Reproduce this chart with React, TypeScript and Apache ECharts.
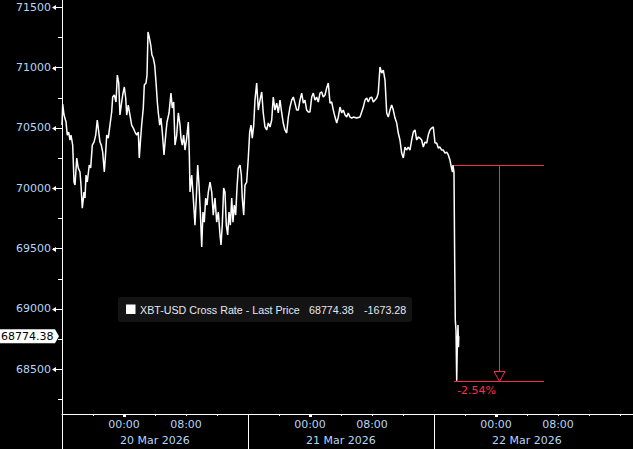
import React, { useEffect, useRef } from "react";
import * as echarts from "echarts";

// Hours elapsed since 19 Mar 2026 16:00 (start of the chart window)
const hours = [
  0.0, 0.09, 0.26, 0.52, 0.68, 0.86, 1.03, 1.16, 1.38, 1.55, 1.68, 1.9, 2.1, 2.32, 2.45, 2.62, 2.84, 2.97, 3.1, 3.26,
  3.52, 3.7, 3.91, 4.13, 4.35, 4.55, 4.74, 4.9, 5.07, 5.25, 5.46, 5.64, 5.77, 5.97, 6.19, 6.41, 6.54, 6.75, 6.97, 7.14,
  7.32, 7.48, 7.65, 7.83, 8.04, 8.22, 8.35, 8.55, 8.77, 8.99, 9.2, 9.42, 9.64, 9.85, 9.97, 10.15, 10.28, 10.49, 10.62, 10.84,
  10.97, 11.1, 11.26, 11.45, 11.61, 11.78, 11.96, 12.13, 12.3, 12.43, 12.61, 12.77, 12.94, 13.16, 13.38, 13.55, 13.81, 14.06, 14.23, 14.41,
  14.58, 14.8, 15.01, 15.23, 15.35, 15.52, 15.7, 15.87, 16.09, 16.3, 16.43, 16.52, 16.74, 16.94, 17.16, 17.33, 17.51, 17.68, 17.85, 18.03,
  18.19, 18.36, 18.54, 18.71, 18.88, 19.1, 19.32, 19.52, 19.74, 19.96, 20.17, 20.39, 20.52, 20.68, 20.86, 21.03, 21.2, 21.38, 21.55, 21.72,
  21.9, 22.06, 22.23, 22.41, 22.58, 22.75, 22.97, 23.14, 23.26, 23.45, 23.61, 23.83, 24.04, 24.22, 24.39, 24.55, 24.74, 24.9, 25.12, 25.33,
  25.55, 25.77, 25.97, 26.19, 26.41, 26.62, 26.84, 27.06, 27.26, 27.48, 27.7, 27.91, 28.13, 28.35, 28.55, 28.77, 28.99, 29.2, 29.42, 29.64,
  29.85, 30.06, 30.28, 30.49, 30.71, 30.93, 31.14, 31.35, 31.57, 31.78, 32.0, 32.22, 32.43, 32.65, 32.86, 33.07, 33.29, 33.51, 33.72, 33.94,
  34.15, 34.36, 34.58, 34.8, 35.01, 35.23, 35.45, 35.65, 35.87, 36.09, 36.3, 36.52, 36.74, 36.94, 37.16, 37.38, 37.59, 38.03, 38.45, 38.67,
  38.88, 39.1, 39.32, 39.52, 39.74, 39.96, 40.17, 40.39, 40.61, 40.81, 41.03, 41.25, 41.46, 41.68, 41.9, 42.1, 42.32, 42.54, 42.75, 42.97,
  43.19, 43.39, 43.61, 43.83, 44.04, 44.26, 44.48, 44.68, 44.9, 45.12, 45.33, 45.55, 45.77, 45.97, 46.19, 46.41, 46.62, 46.84, 47.06, 47.26,
  47.48, 47.7, 47.91, 48.13, 48.35, 48.55, 48.77, 48.99, 49.2, 49.42, 49.64, 49.85, 50.06, 50.26, 50.39, 50.45, 50.58, 50.67, 50.75, 50.84,
  50.93, 51.01, 51.1, 51.16, 51.2,
];

const prices = [
  70524, 70698, 70607, 70549, 70441, 70466, 70400, 70441, 70358, 70052, 70027, 70251, 70168, 70135, 70027, 69836, 69969, 69919, 70110, 70052,
  70193, 70168, 70358, 70383, 70441, 70566, 70466, 70383, 70358, 70300, 70135, 70300, 70441, 70416, 70524, 70632, 70756, 70773, 70715, 70938,
  70872, 70607, 70690, 70773, 70839, 70748, 70607, 70690, 70607, 70524, 70499, 70466, 70441, 70466, 70251, 70416, 70524, 70665, 70856, 70872,
  70938, 71295, 71253, 71187, 71104, 71079, 71021, 70880, 70715, 70624, 70524, 70582, 70466, 70276, 70441, 70549, 70624, 70789, 70665, 70715,
  70358, 70441, 70624, 70524, 70416, 70358, 70441, 70317, 70416, 70549, 70276, 69969, 70110, 69919, 69695, 69919, 70193, 70027, 69803, 69513,
  69803, 69720, 69919, 69861, 69969, 70052, 69969, 69778, 69919, 69720, 69803, 69613, 69530, 69695, 70002, 69969, 69695, 69613, 69803, 69695,
  69919, 69720, 69861, 69778, 70002, 70168, 70193, 70110, 69919, 69778, 70027, 70052, 70251, 70466, 70524, 70416, 70524, 70731, 70872, 70648,
  70731, 70798, 70624, 70508, 70483, 70541, 70508, 70566, 70756, 70648, 70706, 70624, 70731, 70624, 70541, 70483, 70458, 70590, 70673, 70731,
  70756, 70706, 70648, 70648, 70731, 70789, 70706, 70731, 70648, 70632, 70632, 70756, 70789, 70731, 70756, 70715, 70789, 70798, 70756, 70773,
  70831, 70872, 70706, 70715, 70648, 70590, 70541, 70590, 70673, 70624, 70648, 70607, 70590, 70624, 70590, 70582, 70590, 70582, 70590, 70632,
  70673, 70731, 70748, 70715, 70748, 70756, 70715, 70731, 70748, 70789, 71005, 70955, 70980, 70897, 70624, 70590, 70648, 70690, 70648, 70582,
  70541, 70458, 70400, 70292, 70251, 70342, 70317, 70342, 70317, 70400, 70466, 70483, 70400, 70425, 70416, 70400, 70342, 70383, 70375, 70441,
  70483, 70499, 70508, 70375, 70375, 70334, 70342, 70317, 70317, 70292, 70300, 70276, 70234, 70168, 70135, 70193, 70135, 69405, 68908, 68825,
  68405, 68701, 68867, 68684, 68774,
];

const yTickValues = [68500, 69000, 69500, 70000, 70500, 71000, 71500];
const yMinorTickValues = [68250, 68750, 69250, 69750, 70250, 70750, 71250];
const yMin = 68130;
const yMax = 71560;
const xMaxHours = 73.68;

const fourHourTicks = [4, 8, 12, 16, 20, 28, 32, 36, 40, 44, 52, 56, 60, 64, 68, 72];
const timeTickHours = [8, 16, 32, 40, 56, 64];
const timeTickLabels = ["00:00", "08:00", "00:00", "08:00", "00:00", "08:00"];
const midnightHours = [8, 32, 56];
const daySeparatorHours = [0, 24, 48];
const dayLabelHours = [12, 36, 60];
const dayLabels = ["20 Mar 2026", "21 Mar 2026", "22 Mar 2026"];

const seriesName = "XBT-USD Cross Rate - Last Price";
const lastPrice = 68774.38;
const netChange = -1673.28;

// drawdown annotation
const annoStartHour = 50.6;
const annoEndHour = 62.2;
const annoArrowHour = 56.4;
const annoFromPrice = 70190;
const annoToPrice = 68405;

const LABEL_BLUE = "#b8d4f4";
const RED = "#f0304c";
const AXIS_FONT = "DejaVu Sans";

export default function App() {
  const ref = useRef<HTMLDivElement>(null);

  useEffect(() => {
    if (!ref.current) return;
    const chart = echarts.init(ref.current, undefined, { renderer: "svg" });
    const lineData = hours.map((h, i) => [h, prices[i]]);
    const pct = ((annoToPrice / annoFromPrice - 1) * 100).toFixed(2) + "%";

    chart.setOption({
      animation: false,
      backgroundColor: "#000000",
      grid: { left: 62, right: 0, top: 0, bottom: 35, containLabel: false },
      xAxis: [
        {
          type: "value",
          min: 0,
          max: xMaxHours,
          position: "bottom",
          axisLine: { show: true, lineStyle: { color: "#ffffff", width: 1 } },
          axisTick: { show: true, customValues: fourHourTicks, length: 2, lineStyle: { color: "#ffffff" } },
          axisLabel: {
            show: true,
            customValues: timeTickHours,
            formatter: (v: number) => {
              const i = timeTickHours.findIndex((t) => Math.abs(t - v) < 0.01);
              return i >= 0 ? timeTickLabels[i] : "";
            },
            color: LABEL_BLUE,
            fontFamily: AXIS_FONT,
            fontSize: 11,
            margin: 5,
          },
          splitLine: { show: false },
        },
        {
          type: "value",
          min: 0,
          max: xMaxHours,
          position: "bottom",
          axisLine: { show: false },
          axisTick: { show: true, customValues: daySeparatorHours, length: 36, lineStyle: { color: "#ffffff", width: 1 } },
          axisLabel: {
            show: true,
            customValues: dayLabelHours,
            formatter: (v: number) => {
              const i = dayLabelHours.findIndex((t) => Math.abs(t - v) < 0.01);
              return i >= 0 ? dayLabels[i] : "";
            },
            color: LABEL_BLUE,
            fontFamily: AXIS_FONT,
            fontSize: 11,
            margin: 21,
          },
          splitLine: { show: false },
        },
        {
          type: "value",
          min: 0,
          max: xMaxHours,
          position: "bottom",
          axisLine: { show: false },
          axisTick: { show: true, customValues: midnightHours, length: 3, lineStyle: { color: "#ffffff", width: 3 } },
          axisLabel: { show: false },
          splitLine: { show: false },
        },
      ],
      yAxis: [
        {
          type: "value",
          min: yMin,
          max: yMax,
          position: "left",
          axisLine: { show: true, lineStyle: { color: "#ffffff", width: 1 } },
          axisTick: { show: true, customValues: yTickValues, length: 9, lineStyle: { color: "#ffffff" } },
          axisLabel: {
            show: true,
            customValues: yTickValues,
            formatter: (v: number) => String(v),
            color: LABEL_BLUE,
            fontFamily: AXIS_FONT,
            fontSize: 11,
            margin: 11,
          },
          splitLine: { show: false },
        },
        {
          type: "value",
          min: yMin,
          max: yMax,
          position: "left",
          axisLine: { show: false },
          axisTick: { show: true, customValues: yMinorTickValues, length: 4, lineStyle: { color: "#ffffff" } },
          axisLabel: { show: false },
          splitLine: { show: false },
        },
      ],
      series: [
        {
          name: seriesName,
          type: "line",
          xAxisIndex: 0,
          yAxisIndex: 0,
          data: lineData,
          showSymbol: false,
          symbol: "none",
          lineStyle: { color: "#ffffff", width: 1.5 },
          silent: true,
          z: 3,
        },
        {
          type: "custom",
          xAxisIndex: 0,
          yAxisIndex: 0,
          silent: true,
          clip: false,
          z: 4,
          data: [[annoArrowHour, annoToPrice]],
          renderItem: (_params: any, api: any) => {
            const r = (v: number) => Math.round(v) + 0.5;
            const [xs, yTop] = api.coord([annoStartHour, annoFromPrice]);
            const [xe] = api.coord([annoEndHour, annoFromPrice]);
            const [xa, yBot] = api.coord([annoArrowHour, annoToPrice]);
            const yt = r(yTop);
            const yb = r(yBot);
            const ax = r(xa);
            return {
              type: "group",
              children: [
                { type: "line", shape: { x1: xs, y1: yt, x2: xe, y2: yt }, style: { stroke: RED, lineWidth: 1 } },
                { type: "line", shape: { x1: xs, y1: yb, x2: xe, y2: yb }, style: { stroke: RED, lineWidth: 1 } },
                { type: "line", shape: { x1: ax, y1: yt, x2: ax, y2: yb - 10 }, style: { stroke: RED, lineWidth: 1 } },
                {
                  type: "polygon",
                  shape: { points: [[ax - 5.5, yb - 10], [ax + 5.5, yb - 10], [ax, yb]] },
                  style: { fill: "#000000", stroke: RED, lineWidth: 1 },
                },
                {
                  type: "text",
                  style: {
                    text: "-" === pct[0] ? pct : "+" + pct,
                    x: xs + 3,
                    y: yb + 9,
                    fill: "#ff2d48",
                    font: `11px "${AXIS_FONT}"`,
                    textAlign: "left",
                    textVerticalAlign: "middle",
                  },
                },
              ],
            };
          },
        },
      ],
    });

    // graphics that depend on axis pixel positions
    const graphics: any[] = [];
    yTickValues.forEach((v) => {
      const py = Math.round(chart.convertToPixel({ yAxisIndex: 0 }, v) as number) + 0.5;
      graphics.push({
        type: "polygon",
        shape: { points: [[52, py], [56, py - 2.5], [56, py + 2.5]] },
        style: { fill: "#ffffff" },
        silent: true,
      });
    });
    const lp = chart.convertToPixel({ yAxisIndex: 0 }, lastPrice) as number;
    graphics.push({
      type: "polygon",
      shape: { points: [[0, lp - 7], [55, lp - 7], [59, lp], [55, lp + 7], [0, lp + 7]] },
      style: { fill: "#ffffff" },
      silent: true,
      z: 10,
    });
    graphics.push({
      type: "text",
      style: {
        text: lastPrice.toFixed(2),
        x: 1,
        y: lp + 0.5,
        fill: "#000000",
        font: `11px "${AXIS_FONT}"`,
        textAlign: "left",
        textVerticalAlign: "middle",
      },
      silent: true,
      z: 11,
    });
    // legend box
    graphics.push({
      type: "rect",
      shape: { x: 118, y: 297, width: 294, height: 25, r: 3 },
      style: { fill: "#141414" },
      silent: true,
      z: 10,
    });
    graphics.push({
      type: "rect",
      shape: { x: 126, y: 304.5, width: 9.5, height: 9.5 },
      style: { fill: "#ffffff" },
      silent: true,
      z: 11,
    });
    const legendFont = `10.7px "Liberation Sans"`;
    const legendItems: [string, number][] = [
      [seriesName, 140],
      [lastPrice.toFixed(2), 309],
      [netChange.toFixed(2), 364],
    ];
    legendItems.forEach(([t, x]) => {
      graphics.push({
        type: "text",
        style: { text: t, x, y: 309.5, fill: "#e4e8f2", font: legendFont, textAlign: "left", textVerticalAlign: "middle" },
        silent: true,
        z: 11,
      });
    });
    chart.setOption({ graphic: graphics });

    return () => chart.dispose();
  }, []);

  return (
    <div
      ref={ref}
      style={{ position: "fixed", left: 0, top: 0, width: 633, height: 449, background: "#000" }}
    />
  );
}
